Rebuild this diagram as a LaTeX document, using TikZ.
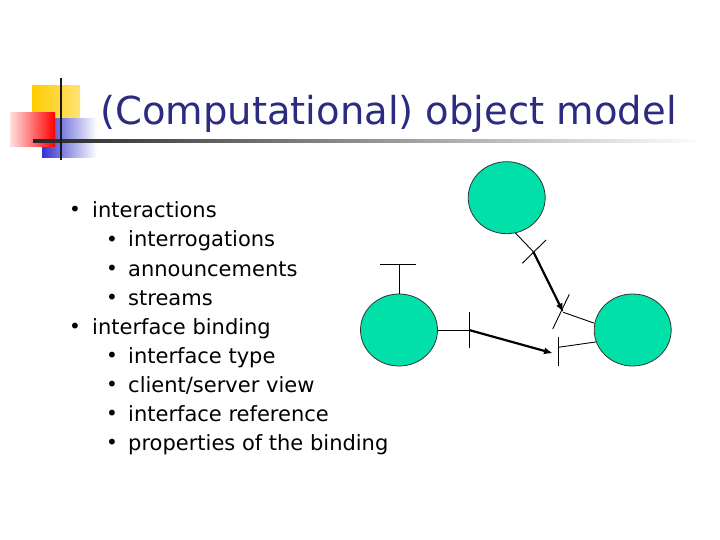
\documentclass[tikz,border=0pt]{standalone}
\usepackage{fontspec}
\setmainfont{DejaVu Sans}
\usetikzlibrary{shapes.geometric,arrows.meta}
\definecolor{titleblue}{RGB}{43,43,128}
\definecolor{objgreen}{RGB}{0,224,168}
\definecolor{logoyellow}{RGB}{255,204,0}
\definecolor{logoblue}{RGB}{51,51,204}
\tikzset{
  obj/.style={ellipse,draw=black!80,line width=0.8pt,fill=objgreen,minimum width=77pt,minimum height=72pt,inner sep=0pt},
  thin/.style={line width=0.9pt,black},
  bind/.style={line width=2.2pt,black,-{Latex[length=9pt,width=7pt]}},
  lvone/.style={anchor=base west,inner sep=0pt,font=\fontsize{21}{24}\selectfont},
  lvtwo/.style={anchor=base west,inner sep=0pt,font=\fontsize{21}{24}\selectfont},
  bul/.style={anchor=base west,inner sep=0pt,font=\fontsize{20}{24}\selectfont},
  titlestyle/.style={anchor=base west,inner sep=0pt,text=titleblue,font=\fontsize{38.5}{44}\selectfont}
}
\begin{document}
\begin{tikzpicture}[x=1pt,y=-1pt]
\useasboundingbox (0,0) rectangle (720,540);
\fill[white] (0,0) rectangle (720,540);
% logo
\shade[left color=logoyellow,right color=logoyellow!55] (32,86) rectangle (80,120);
\shade[left color=logoblue,middle color=logoblue!85,right color=white] (42,119) rectangle (97,158);
\shade[left color=red!12,right color=red] (10,113) rectangle (55,147);
\shade[left color=black!85,right color=white] (33,139.5) rectangle (705,142.5);
\draw[line width=2.6pt,black!90] (61,78) -- (61,160);
% title
\node[titlestyle] (title) at (100,125) {(Computational) object model};
% bullets
\foreach \y/\t [count=\i] in {218/interactions,334/interface binding}{
  \node[bul] (b\i) at (69,\y-1) {•};
  \node[lvone] (t\i) at (92,\y) {\t};
}
\foreach \y/\t [count=\i] in {247/interrogations,276/announcements,305/streams,363/interface type,392/{client/server view},421/interface reference,450/properties of the binding}{
  \node[bul] (sb\i) at (106,\y-1) {•};
  \node[lvtwo] (st\i) at (128,\y) {\t};
}
% objects
\node[obj] (top) at (506.7,197.7) {};
\node[obj] (left) at (399,330) {};
\node[obj] (right) at (632.7,330) {};
% left object interfaces
\coordinate (lt) at (399,264.3);
\coordinate (ltA) at (380,264.3);
\coordinate (ltB) at (416,264.3);
\draw[thin] (left.north) -- (lt);
\draw[thin] (ltA) -- (ltB);
\coordinate (lr) at (469,330);
\coordinate (lrA) at (469,312.3);
\coordinate (lrB) at (469,348.3);
\draw[thin] (left.east) -- (lr);
\draw[thin] (lrA) -- (lrB);
% top object interface
\coordinate (tp) at (533.3,251.7);
\coordinate (tpA) at (522.3,263.3);
\coordinate (tpB) at (546,240);
\draw[thin] (top.-76) -- (tp);
\draw[thin] (tpA) -- (tpB);
% right object interfaces
\coordinate (r1) at (563.3,312.3);
\coordinate (r1A) at (552.7,329);
\coordinate (r1B) at (569.3,294.3);
\draw[thin] (right.170) -- (r1);
\draw[thin] (r1A) -- (r1B);
\coordinate (r2) at (558.3,347.3);
\coordinate (r2A) at (558.3,336.7);
\coordinate (r2B) at (558.3,366);
\draw[thin] (right.198) -- (r2);
\draw[thin] (r2A) -- (r2B);
% bindings
\draw[bind] (tp) -- (r1);
\coordinate (r2end) at (553,353.3);
\draw[bind] (lr) -- (r2end);
\end{tikzpicture}
\end{document}
